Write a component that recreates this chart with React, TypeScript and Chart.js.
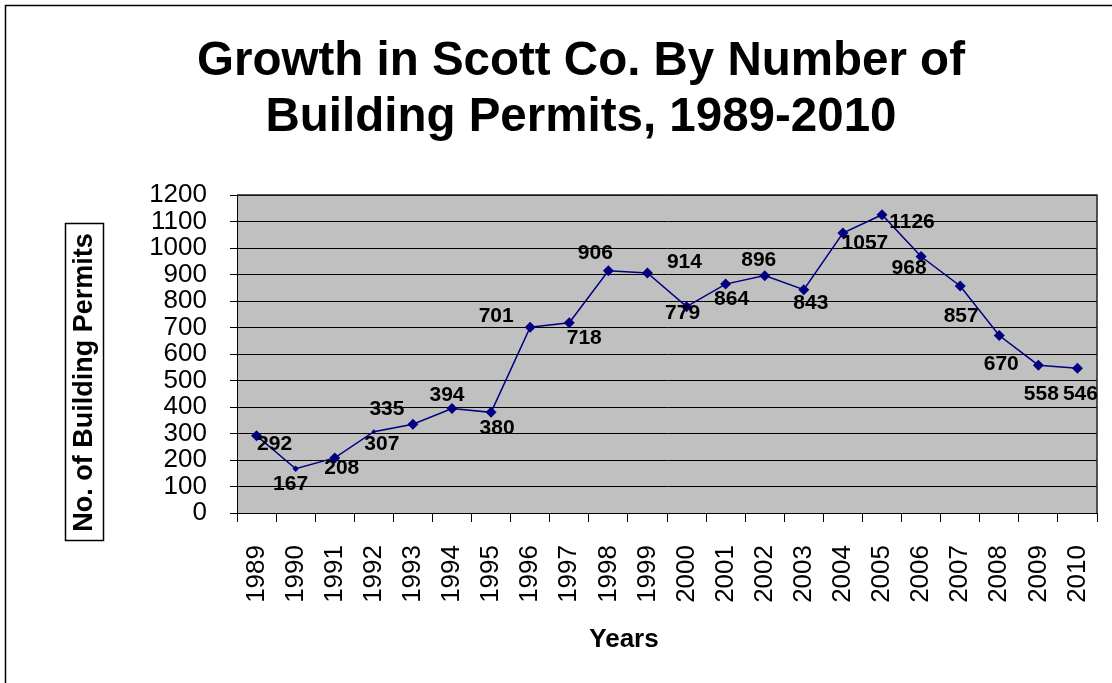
import React, { useEffect, useRef } from 'react';
import { Chart, registerables } from 'chart.js';

Chart.register(...registerables);

// ---------- data ----------
const years = ['1989', '1990', '1991', '1992', '1993', '1994', '1995', '1996', '1997', '1998', '1999',
  '2000', '2001', '2002', '2003', '2004', '2005', '2006', '2007', '2008', '2009', '2010'];
const permits = [292, 167, 208, 307, 335, 394, 380, 701, 718, 914, 906, 779, 864, 896, 843, 1057, 1126, 968, 857, 670, 558, 546];
const permitLabels = ['292', '167', '208', '307', '335', '394', '380', '701', '718', '906', '914', '779', '864', '896', '843', '1057', '1126', '968', '857', '670', '558', '546'];
const yMin = 0;
const yMax = 1200;
const yStep = 100;
const titleLines = ['Growth in Scott Co. By Number of', 'Building Permits, 1989-2010'];
const xTitle = 'Years';
const yTitle = 'No. of Building Permits';

// ---------- styling ----------
const FONT = "'Liberation Sans', Arial, Helvetica, sans-serif";
const NAVY = '#000080';
// label placement offsets (dx, dy) relative to each marker, as in the original layout
const LABEL_OFFSETS: [number, number][] = [
  [18, 9], [-5, 15], [7, 10], [8, 13], [-26, -15], [-5, -13], [6, 16], [-34, -11], [15, 15], [-13, -18],
  [37, -11], [-4, 7], [6, 15], [-6, -15], [7, 14], [22, 10], [30, 7], [-12, 12], [1, 30], [2, 29], [3, 29], [3, 26],
];
const SMALL_MARKERS: Record<number, number> = { 1: 3.2, 3: 2.4 };

const decor = {
  id: 'decor',
  beforeDraw(chart: any) {
    const { ctx, chartArea: a, width, height } = chart;
    ctx.save();
    ctx.fillStyle = '#ffffff';
    ctx.fillRect(0, 0, width, height);
    ctx.strokeStyle = '#000';
    ctx.lineWidth = 1.5;
    ctx.beginPath();
    ctx.moveTo(5.5, height + 5);
    ctx.lineTo(5.5, 5.5);
    ctx.lineTo(width + 5, 5.5);
    ctx.stroke();
    ctx.fillStyle = '#C0C0C0';
    ctx.fillRect(a.left, a.top, a.right - a.left, a.bottom - a.top);
    ctx.restore();
  },
  afterDraw(chart: any) {
    const { ctx, chartArea: a } = chart;
    ctx.save();
    // plot border (top / right)
    ctx.strokeStyle = '#222';
    ctx.lineWidth = 1.5;
    ctx.beginPath();
    ctx.moveTo(a.left, a.top);
    ctx.lineTo(a.right, a.top);
    ctx.lineTo(a.right, a.bottom);
    ctx.stroke();

    // data labels
    const meta = chart.getDatasetMeta(0);
    ctx.save();
    ctx.beginPath();
    ctx.rect(a.left, a.top - 20, a.right - a.left, a.bottom - a.top + 20);
    ctx.clip();
    ctx.fillStyle = '#000';
    ctx.font = `bold 21px ${FONT}`;
    ctx.textAlign = 'center';
    ctx.textBaseline = 'middle';
    meta.data.forEach((pt: any, i: number) => {
      const [dx, dy] = LABEL_OFFSETS[i] || [0, 0];
      ctx.fillText(permitLabels[i], pt.x + dx, pt.y + dy);
    });
    ctx.restore();

    // y axis title in a box
    const bx = 65, by = 223, bw = 38, bh = 317;
    ctx.strokeStyle = '#000';
    ctx.lineWidth = 1.5;
    ctx.strokeRect(bx + 0.5, by + 0.5, bw, bh);
    ctx.save();
    ctx.translate(bx + bw / 2 + 1, by + bh / 2 + 1);
    ctx.rotate(-Math.PI / 2);
    ctx.font = `bold 27px ${FONT}`;
    ctx.fillStyle = '#000';
    ctx.textAlign = 'center';
    ctx.textBaseline = 'middle';
    ctx.fillText(yTitle, 0, 0);
    ctx.restore();

    // x axis title
    ctx.font = `bold 26px ${FONT}`;
    ctx.fillStyle = '#000';
    ctx.textAlign = 'center';
    ctx.textBaseline = 'middle';
    ctx.fillText(xTitle, 624, 640);
    ctx.restore();
  },
};

export default function App() {
  const ref = useRef<HTMLCanvasElement | null>(null);
  useEffect(() => {
    if (!ref.current) return;
    const chart = new Chart(ref.current, {
      type: 'line',
      data: {
        labels: years,
        datasets: [
          {
            data: permits,
            borderColor: NAVY,
            backgroundColor: NAVY,
            borderWidth: 1.5,
            pointStyle: 'rectRot',
            pointRadius: (c: any) => SMALL_MARKERS[c.dataIndex] ?? 5.5,
            pointBorderWidth: 0,
            pointBackgroundColor: NAVY,
            pointBorderColor: NAVY,
            tension: 0,
            clip: false,
          },
        ],
      },
      options: {
        animation: false,
        responsive: false,
        maintainAspectRatio: false,
        events: [],
        layout: { padding: { left: 65, right: 15, top: 0, bottom: 0 } },
        plugins: {
          legend: { display: false },
          tooltip: { enabled: false },
          title: {
            display: true,
            text: titleLines,
            color: '#000',
            font: { family: FONT, size: 47.5, weight: 'bold', lineHeight: 1.18 },
            padding: { top: 34, bottom: 49 },
          },
        },
        scales: {
          x: {
            type: 'category',
            offset: true,
            grid: {
              display: true,
              drawOnChartArea: false,
              drawTicks: true,
              offset: true,
              tickLength: 9,
              color: '#000',
              lineWidth: 1,
            },
            border: { display: true, color: '#000', width: 1 },
            ticks: {
              autoSkip: false,
              minRotation: 90,
              maxRotation: 90,
              padding: 23,
              color: '#000',
              font: { family: FONT, size: 26 },
            },
            afterFit: (s: any) => {
              s.height = 170;
              s.paddingLeft = 0;
              s.paddingRight = 0;
            },
          },
          y: {
            min: yMin,
            max: yMax,
            grid: { color: '#000', lineWidth: 1, tickLength: 7, drawTicks: true },
            border: { display: true, color: '#000', width: 1 },
            ticks: {
              stepSize: yStep,
              autoSkip: false,
              padding: 23,
              color: '#000',
              font: { family: FONT, size: 26 },
              callback: (v: any) => String(v),
            },
            afterFit: (s: any) => {
              s.width = 172;
              s.paddingTop = 0;
              s.paddingBottom = 0;
            },
          },
        },
      },
      plugins: [decor],
    } as any);
    return () => chart.destroy();
  }, []);
  return (
    <div style={{ position: 'fixed', left: 0, top: 0, width: 1112, height: 683, background: '#fff' }}>
      <canvas ref={ref} width={1112} height={683} style={{ width: 1112, height: 683, display: 'block' }} />
    </div>
  );
}
